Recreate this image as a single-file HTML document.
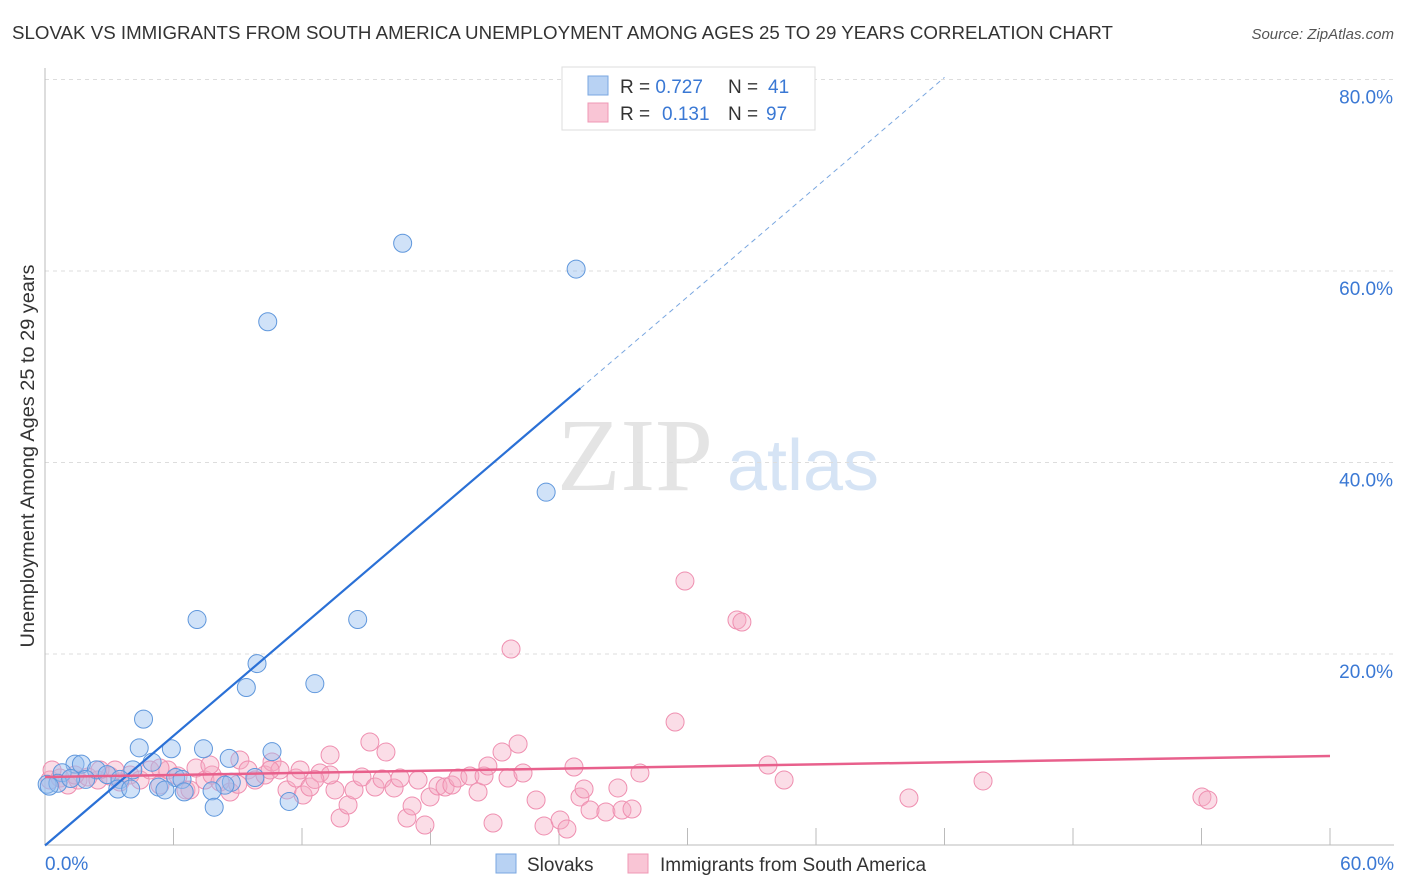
<!DOCTYPE html>
<html><head><meta charset="utf-8">
<style>
body{margin:0;background:#fff;font-family:"Liberation Sans",sans-serif;}
svg{display:block}
</style></head>
<body>
<svg id="chart" width="1406" height="892" xmlns="http://www.w3.org/2000/svg">
<text x="12" y="39" font-size="18" fill="#333" textLength="1101" lengthAdjust="spacingAndGlyphs">SLOVAK VS IMMIGRANTS FROM SOUTH AMERICA UNEMPLOYMENT AMONG AGES 25 TO 29 YEARS CORRELATION CHART</text>
<text x="1394" y="39" font-size="15" fill="#555" font-style="italic" text-anchor="end">Source: ZipAtlas.com</text>
<text x="34" y="456" font-size="19" fill="#333" text-anchor="middle" textLength="383" lengthAdjust="spacingAndGlyphs" transform="rotate(-90 34 456)">Unemployment Among Ages 25 to 29 years</text>
<g>
<text x="635" y="490" font-size="104" fill="#e4e4e4" font-family="Liberation Serif,serif" text-anchor="middle">ZIP</text>
<text x="803" y="490" font-size="72" fill="#d6e4f5" text-anchor="middle">atlas</text>
</g>
<g id="grid"></g>
<g id="pink"></g>
<g id="blue"></g>
<g id="lines"></g>
<g>
<rect x="562" y="67" width="253" height="63" fill="#fff" stroke="#ddd"/>
<rect x="588" y="76" width="20" height="19" fill="#b8d2f3" stroke="#7aa7e0"/>
<rect x="588" y="103" width="20" height="19" fill="#f9c5d5" stroke="#ef98b5"/>
<text x="620" y="93" font-size="19" fill="#333">R = <tspan fill="#3a78d4">0.727</tspan><tspan x="728">N = </tspan><tspan x="768" fill="#3a78d4">41</tspan></text>
<text x="620" y="120" font-size="19" fill="#333">R = <tspan x="662" fill="#3a78d4">0.131</tspan><tspan x="728">N = </tspan><tspan x="766" fill="#3a78d4">97</tspan></text>
</g>
<g>
<rect x="496" y="854" width="20" height="19" fill="#b8d2f3" stroke="#7aa7e0"/>
<text x="527" y="871" font-size="19" fill="#333">Slovaks</text>
<rect x="628" y="854" width="20" height="19" fill="#f9c5d5" stroke="#ef98b5"/>
<text x="660" y="871" font-size="19" fill="#333">Immigrants from South America</text>
</g>
</svg>
<script>
const yTicks=[20,40,60,80];
const yTickLabels=["20.0%","40.0%","60.0%","80.0%"];
const xTicks=[0,6,12,18,24,30,36,42,48,54,60];
const xEndLabels=["0.0%","60.0%"];
const blueX=[16.7,24.8,10.4,23.4,7.1,14.6,9.9,9.4,12.6,4.6,4.4,5.9,7.4,10.6,8.6,5.0,1.4,1.7,2.4,4.1,2.9,0.8,3.5,6.1,6.4,8.7,9.8,8.4,0.1,0.6,3.4,4.0,5.3,6.5,7.8,5.6,7.9,11.4,1.9,1.2,0.2];
const blueY=[62.9,60.2,54.7,36.9,23.6,23.6,19.0,16.5,16.9,13.2,10.2,10.1,10.1,9.8,9.1,8.7,8.5,8.5,7.9,7.9,7.4,7.6,6.9,7.1,6.9,6.6,7.1,6.3,6.4,6.5,5.9,5.9,6.1,5.6,5.7,5.8,4.0,4.6,6.9,7.0,6.2];
const pinkX=[0.23,0.70,1.07,1.54,2.01,2.47,3.03,3.50,3.97,4.44,4.90,5.37,5.74,6.21,6.58,7.05,7.47,7.80,8.17,8.64,9.10,9.48,9.81,10.27,10.60,10.97,11.30,11.72,12.05,12.37,12.84,13.31,13.54,13.78,14.15,14.43,14.80,15.17,15.41,15.74,15.92,16.30,16.58,16.90,17.14,17.42,17.74,17.98,18.35,18.68,19.00,19.28,19.84,20.22,20.50,20.68,20.92,21.34,21.62,21.76,22.09,22.32,22.93,23.30,24.05,24.37,24.70,24.98,25.17,25.45,26.19,26.75,26.94,27.41,27.78,29.42,29.88,32.31,32.54,33.76,34.51,40.34,43.80,54.02,54.30,5.37,6.77,2.57,10.51,11.91,13.31,0.33,1.40,3.27,7.70,9.0,12.6];
const pinkY=[6.84,7.05,6.32,6.84,7.15,6.84,7.26,6.63,7.36,6.84,7.89,6.32,7.89,7.26,5.80,8.09,6.84,7.36,6.63,5.59,8.93,7.89,6.84,7.36,8.72,7.89,5.80,7.05,5.27,6.11,7.57,9.45,5.80,2.87,4.23,5.80,7.15,10.81,6.11,6.95,9.76,6.01,7.05,2.87,4.13,6.84,2.14,5.07,6.21,6.11,6.32,7.05,7.26,5.59,7.26,8.30,2.35,9.76,7.05,20.52,10.60,7.57,4.75,2.04,2.66,1.72,8.20,5.07,5.90,3.71,3.50,6.01,3.71,3.81,7.57,12.90,27.62,23.55,23.34,8.41,6.84,4.96,6.74,5.07,4.75,8.09,5.80,7.89,7.89,7.89,7.36,7.89,7.36,7.89,8.41,6.4,6.9];
const blueSlope=1.91, blueIntercept=0.0, blueSolidEnd=25.0, blueDashEnd=42.0;
const pinkSlope=0.0367, pinkIntercept=7.15;

const NS="http://www.w3.org/2000/svg";
const X0=45,X1=1330,Y0=845.5,YPER=9.575;
const sx=v=>X0+v*(X1-X0)/60;
const sy=v=>Y0-v*YPER;
function mk(tag,attrs,parent){const e=document.createElementNS(NS,tag);for(const k in attrs)e.setAttribute(k,attrs[k]);parent.appendChild(e);return e;}
const grid=document.getElementById('grid');
yTicks.forEach((t,i)=>{
  const l=mk('line',{x1:45,x2:1394,y1:sy(t),y2:sy(t),stroke:'#ddd','stroke-dasharray':'4,4'},grid);
  
  
  const tx=mk('text',{x:1393,y:sy(t)+24,'font-size':19,fill:'#3a78d4','text-anchor':'end'},grid);
  tx.textContent=yTickLabels[i];
  
  
});
const ax=mk('line',{x1:45,x2:45,y1:68,y2:845,stroke:'#bbb'},grid);


const bx=mk('line',{x1:45,x2:1394,y1:845,y2:845,stroke:'#bbb'},grid);


xTicks.forEach(t=>{
  const l=mk('line',{x1:sx(t),x2:sx(t),y1:828,y2:845,stroke:'#bbb'},grid);
  
  
});
[[0,'start',45],[60,'end',1394]].forEach((d,i)=>{
  const tx=mk('text',{x:d[2],y:870,'font-size':19,fill:'#3a78d4','text-anchor':d[1]},grid);
  tx.textContent=xEndLabels[i];
  
  
});
const pg=document.getElementById('pink');
pinkX.forEach((x,i)=>{
  const c=mk('circle',{cx:sx(x),cy:sy(pinkY[i]),r:9,fill:'rgba(246,170,195,0.4)',stroke:'#ef8fb0','stroke-width':1},pg);
  
  
});
const bg=document.getElementById('blue');
blueX.forEach((x,i)=>{
  const c=mk('circle',{cx:sx(x),cy:sy(blueY[i]),r:9,fill:'rgba(150,190,240,0.45)',stroke:'#5f97dc','stroke-width':1},bg);
  
  
});
const lg=document.getElementById('lines');
const b1=mk('line',{x1:sx(0),y1:sy(blueIntercept),x2:sx(blueSolidEnd),y2:sy(blueIntercept+blueSlope*blueSolidEnd),stroke:'#2a70d6','stroke-width':2.2},lg);


const b2=mk('line',{x1:sx(blueSolidEnd),y1:sy(blueIntercept+blueSlope*blueSolidEnd),x2:sx(blueDashEnd),y2:sy(blueIntercept+blueSlope*blueDashEnd),stroke:'#7aa7e0','stroke-width':1,'stroke-dasharray':'5,4'},lg);


const p1=mk('line',{x1:sx(0),y1:sy(pinkIntercept),x2:sx(60),y2:sy(pinkIntercept+pinkSlope*60),stroke:'#e8608c','stroke-width':2.5},lg);


</script>
</body></html>
